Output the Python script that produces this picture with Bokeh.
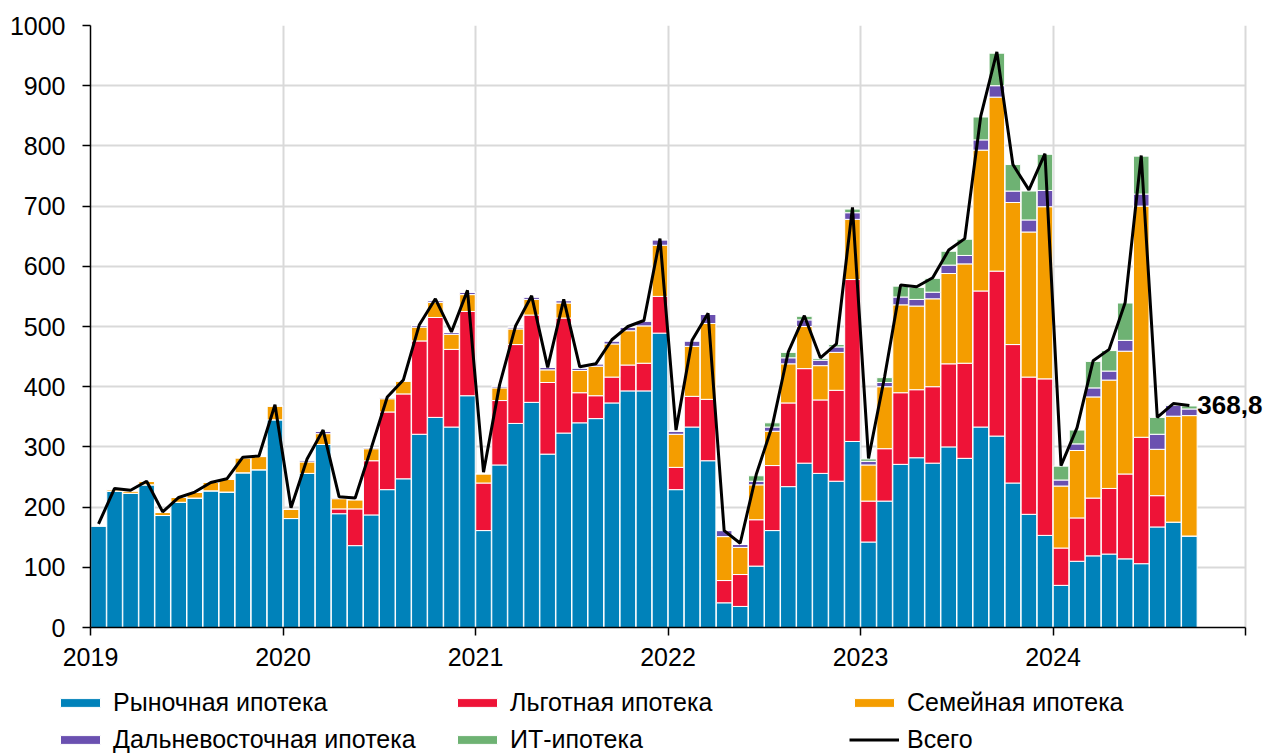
from bokeh.plotting import figure
from bokeh.layouts import column
from bokeh.models import (ColumnDataSource, Range1d, FixedTicker, Legend, LegendItem,
                          Label, BoxAnnotation)
from bokeh.embed import file_html
from bokeh.resources import INLINE

# Monthly data, Jan 2019 .. Sep 2024 (bn roubles)
months = [f"{y}-{m:02d}" for y in range(2019, 2025) for m in range(1, 13)][:69]

market = [169, 226, 223, 237, 186, 208, 215, 227, 225, 257, 262, 345,
          181, 256, 304, 189, 136, 187, 229, 247, 321, 349, 333, 385,
          161, 270, 339, 374, 288, 323, 340, 347, 373, 393, 393, 489,
          229, 333, 277, 41, 35, 102, 161, 234, 273, 256, 243, 309,
          142, 210, 271, 282, 273, 300, 281, 333, 318, 240, 188, 153,
          70, 110, 119, 122, 114, 106, 167, 175, 152]
preferential = [0, 0, 0, 0, 0, 0, 0, 0, 0, 0, 0, 0,
                0, 0, 0, 8, 61, 90, 129, 141, 155, 166, 129, 140,
                79, 107, 131, 145, 119, 191, 50, 38, 43, 43, 46, 61,
                37, 51, 102, 37, 53, 77, 108, 139, 157, 122, 151, 269,
                68, 87, 119, 113, 127, 138, 158, 226, 274, 230, 228, 260,
                62, 72, 96, 109, 141, 210, 52, 0, 0]
family = [0, 3, 4, 6, 5, 8, 10, 14, 21, 25, 22, 23,
          15, 19, 18, 17, 15, 20, 22, 21, 23, 25, 25, 28,
          15, 21, 26, 26, 21, 25, 37, 49, 55, 57, 62, 85,
          55, 83, 126, 73, 45, 58, 57, 65, 70, 57, 63, 100,
          60, 103, 146, 139, 146, 150, 165, 234, 289, 236, 241, 286,
          103, 112, 168, 180, 204, 384, 77, 176, 200]
far_east = [0, 0, 0, 0, 0, 0, 0, 0, 0, 0, 0, 0,
            0, 3, 4, 2, 1, 2, 2, 1, 3, 3, 3, 4,
            1, 3, 3, 4, 4, 4, 4, 4, 5, 6, 8, 9,
            5, 9, 15, 10, 5, 6, 7, 10, 11, 9, 9, 11,
            6, 7, 13, 11, 11, 14, 14, 17, 19, 19, 20, 27,
            10, 11, 15, 15, 18, 20, 25, 18, 11]
it_mortgage = [0, 0, 0, 0, 0, 0, 0, 0, 0, 0, 0, 0,
               0, 0, 0, 0, 0, 0, 0, 0, 0, 0, 0, 0,
               0, 0, 0, 0, 0, 0, 0, 0, 0, 0, 0, 0,
               0, 0, 0, 0, 0, 9, 7, 9, 6, 3, 4, 6,
               4, 8, 18, 20, 23, 23, 27, 38, 54, 44, 48, 60,
               23, 23, 44, 34, 62, 63, 28, 1, 5]
total = [172, 231, 228, 243, 192, 216, 225, 241, 247, 283, 285, 370,
         199, 280, 328, 217, 215, 298, 383, 411, 503, 546, 491, 560,
         258, 403, 501, 551, 432, 545, 433, 438, 478, 500, 510, 646,
         328, 477, 522, 161, 140, 254, 335, 458, 518, 448, 471, 698,
         281, 416, 569, 566, 581, 627, 646, 850, 956, 769, 727, 787,
         269, 332, 443, 462, 540, 784, 349, 372, 368.8]

year_labels = ["2019", "2020", "2021", "2022", "2023", "2024"]
series_names = ["Рыночная ипотека", "Льготная ипотека", "Семейная ипотека",
                "Дальневосточная ипотека", "ИТ-ипотека", "Всего"]
last_label = "368,8"

colors = ["#0082BA", "#EE1337", "#F49D00", "#6A50B0", "#6EB273"]
FONT = "Liberation Sans"

N_AXIS = 72                      # axis spans Jan 2019 .. Jan 2025
x_end = N_AXIS * 1177 / 1155     # extra room on the right for the end label

xpos = [i + 0.5 for i in range(len(months))]
src = ColumnDataSource(dict(x=xpos, market=market, preferential=preferential,
                            family=family, far_east=far_east,
                            it_mortgage=it_mortgage, total=total))

p = figure(width=1267, height=687, output_backend="svg", toolbar_location=None,
           x_range=Range1d(0, x_end), y_range=Range1d(0, 1000),
           min_border_left=90, min_border_right=0, min_border_top=25,
           min_border_bottom=60)
p.outline_line_color = None
p.frame_align = False

# axes
p.yaxis.ticker = FixedTicker(ticks=list(range(0, 1001, 100)))
p.xaxis.ticker = FixedTicker(ticks=list(range(0, N_AXIS + 1, 12)))
p.xaxis.bounds = (0, N_AXIS)
p.xaxis.major_label_overrides = {i * 12: lab for i, lab in enumerate(year_labels)} | {N_AXIS: ""}
for ax in (p.xaxis[0], p.yaxis[0]):
    ax.axis_line_color = "black"
    ax.axis_line_width = 1.5
    ax.major_tick_line_color = "black"
    ax.major_tick_line_width = 1.5
    ax.major_tick_out = 8
    ax.major_tick_in = 0
    ax.minor_tick_line_color = None
    ax.major_label_text_font = FONT
    ax.major_label_text_font_size = "25px"
    ax.major_label_text_color = "black"
p.yaxis.major_label_standoff = 17
p.xaxis.major_label_standoff = 12

p.ygrid.grid_line_color = "#D9D9D9"
p.ygrid.grid_line_width = 2
p.xgrid.grid_line_color = "#D9D9D9"
p.xgrid.grid_line_width = 2
yg = p.ygrid[0]
if "cross_bounds" in yg.properties():
    yg.cross_bounds = (0, N_AXIS)
else:
    p.add_layout(BoxAnnotation(left=N_AXIS + 0.1, fill_color="white", fill_alpha=1,
                               line_color=None, level="underlay"))

stack_keys = ["market", "preferential", "family", "far_east", "it_mortgage"]
bars = p.vbar_stack(stack_keys, x="x", width=0.97, color=colors,
                    line_color="white", line_width=1, source=src)
tot = p.line("x", "total", source=src, line_color="black", line_width=3)

p.add_layout(Label(x=xpos[-1], y=total[-1], text=last_label, x_offset=8,
                   text_baseline="middle", text_align="left",
                   text_font=FONT, text_font_style="bold", text_font_size="26px",
                   text_color="black"))

# legend strip below the chart (legend proxies share the series styles;
# their single point lies outside the visible range)
lg = figure(width=1267, height=67, output_backend="svg", toolbar_location=None,
            x_range=Range1d(0, 1), y_range=Range1d(0, 1),
            x_axis_type=None, y_axis_type=None, min_border=0,
            min_border_left=0, min_border_right=0)
lg.outline_line_color = None
lg.grid.visible = False
lg.frame_align = False
proxy_src = ColumnDataSource(dict(x=[-10.0], y=[-10.0]))
proxies = [lg.vbar(x="x", top="y", width=0.5, color=c, line_color="white",
                   line_width=1, source=proxy_src) for c in colors]
proxies.append(lg.line(x="x", y="y", line_color="black", line_width=3, source=proxy_src))
items = [LegendItem(label=series_names[i], renderers=[proxies[i]]) for i in range(6)]
legend = Legend(items=items, location=(55, 0), orientation="horizontal",
                ncols=3, glyph_width=50, glyph_height=11, label_standoff=8,
                label_width=331, spacing=8, padding=0, margin=0,
                border_line_color=None, background_fill_alpha=0,
                label_text_font=FONT, label_text_font_size="25px",
                label_text_color="black")
lg.add_layout(legend, "center")

open("out.html", "w").write(file_html(column(p, lg, spacing=0), INLINE))
